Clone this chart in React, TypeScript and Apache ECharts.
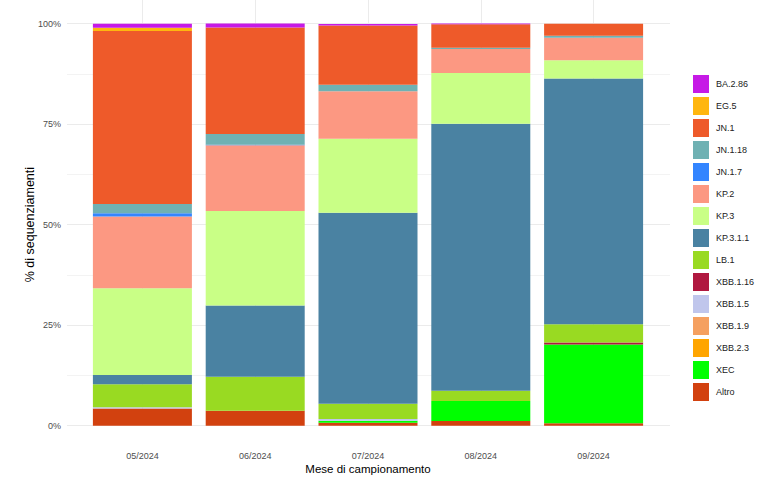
import React, { useEffect, useRef } from "react";
import * as echarts from "echarts";

// Mesi di campionamento
const months = ["05/2024", "06/2024", "07/2024", "08/2024", "09/2024"];

// Percentuale di sequenziamenti per lineage (una voce per mese)
const BA_2_86 = [1.0, 1.0, 0.4, 0.2, 0];
const EG_5 = [0.8, 0, 0, 0, 0];
const JN_1 = [43.0, 26.5, 14.7, 5.9, 3.0];
const JN_1_18 = [2.3, 2.65, 1.65, 0.25, 0.5];
const JN_1_7 = [0.85, 0.15, 0, 0, 0];
const KP_2 = [17.8, 16.3, 11.8, 6.0, 5.6];
const KP_3 = [21.6, 23.5, 18.4, 12.6, 4.5];
const KP_3_1_1 = [2.3, 17.75, 47.5, 66.4, 61.1];
const LB_1 = [5.7, 8.45, 3.8, 2.55, 4.55];
const XBB_1_16 = [0, 0, 0, 0, 0.5];
const XBB_1_5 = [0.3, 0, 0.4, 0, 0];
const XBB_1_9 = [0, 0, 0, 0, 0];
const XBB_2_3 = [0, 0, 0, 0, 0];
const XEC = [0, 0, 0.5, 4.97, 19.6];
const ALTRO = [4.3, 3.7, 0.75, 1.17, 0.6];

// Ordine della legenda (dall'alto) e relativi colori
const lineages = [
  "BA.2.86", "EG.5", "JN.1", "JN.1.18", "JN.1.7", "KP.2", "KP.3", "KP.3.1.1",
  "LB.1", "XBB.1.16", "XBB.1.5", "XBB.1.9", "XBB.2.3", "XEC", "Altro",
];
const lineageValues = [
  BA_2_86, EG_5, JN_1, JN_1_18, JN_1_7, KP_2, KP_3, KP_3_1_1,
  LB_1, XBB_1_16, XBB_1_5, XBB_1_9, XBB_2_3, XEC, ALTRO,
];
const lineageColors = [
  "#C61AE6", "#FFB60F", "#EE5A2A", "#6FB1B3", "#3385FF", "#FC9882", "#C9FF86", "#4A82A2",
  "#99DA22", "#B01840", "#C0C6EC", "#F5A060", "#FFA500", "#00FF00", "#D2410F",
];

const yTicks = [0, 25, 50, 75, 100];

const FONT = "'Liberation Sans', Arial, sans-serif";
const GRID_COLOR = "#EBEBEB";

export default function App() {
  const ref = useRef<HTMLDivElement>(null);

  useEffect(() => {
    if (!ref.current) return;
    const chart = echarts.init(ref.current, undefined, { renderer: "svg" });

    // Stack from the bottom: last legend entry first
    const order = lineages.map((_, i) => i).reverse();
    const series = order.map((i) => ({
      name: lineages[i],
      type: "bar" as const,
      stack: "tot",
      xAxisIndex: 0,
      yAxisIndex: 0,
      barWidth: 99,
      itemStyle: { color: lineageColors[i] },
      data: lineageValues[i],
    }));

    chart.setOption({
      animation: false,
      backgroundColor: "#ffffff",
      textStyle: { fontFamily: FONT },
      legend: {
        data: lineages.map((n, i) => ({ name: n, itemStyle: { color: lineageColors[i] } })),
        orient: "vertical",
        left: 688,
        top: 70,
        itemWidth: 16,
        itemHeight: 18,
        itemGap: 4,
        icon: "rect",
        selectedMode: false,
        textStyle: { fontSize: 9, color: "#222", fontFamily: FONT, padding: [0, 0, 0, 2] },
      },
      grid: [
        // bars
        { left: 86, right: 117, top: 23.5, bottom: 479 - 425.7, outerBoundsMode: "none", containLabel: false },
        // panel background with horizontal grid lines
        { left: 67, right: 97, top: 23.5, bottom: 479 - 425.7, outerBoundsMode: "none", containLabel: false },
      ],
      xAxis: [
        {
          type: "category",
          gridIndex: 0,
          data: months,
          offset: 20,
          axisLine: { show: false },
          axisTick: {
            show: true,
            inside: true,
            alignWithLabel: true,
            length: 443,
            lineStyle: { color: GRID_COLOR, width: 1 },
          },
          axisLabel: { fontSize: 9, color: "#4D4D4D", margin: 6, fontFamily: FONT },
          name: "Mese di campionamento",
          nameLocation: "middle",
          nameGap: 17,
          nameMoveOverlap: false,
          nameTextStyle: { fontSize: 11.5, color: "#000", fontFamily: FONT },
          z: 0,
        },
        {
          type: "value",
          gridIndex: 1,
          min: 0,
          max: 1,
          show: false,
        },
      ],
      yAxis: [
        {
          type: "value",
          gridIndex: 0,
          min: 0,
          max: 100,
          show: false,
        },
        {
          type: "value",
          gridIndex: 1,
          min: yTicks[0],
          max: yTicks[yTicks.length - 1],
          interval: yTicks[1] - yTicks[0],
          axisLine: { show: false },
          axisTick: { show: false },
          axisLabel: {
            fontSize: 9,
            color: "#4D4D4D",
            margin: 6,
            fontFamily: FONT,
            formatter: (v: number) => `${v}%`,
          },
          splitLine: { show: true, lineStyle: { color: GRID_COLOR, width: 1 } },
          minorTick: { show: false, splitNumber: 2 },
          minorSplitLine: { show: true, lineStyle: { color: "#F3F3F3", width: 1 } },
          name: "% di sequenziamenti",
          nameLocation: "middle",
          nameGap: 31,
          nameMoveOverlap: false,
          nameRotate: 90,
          nameTextStyle: { fontSize: 12.5, color: "#000", fontFamily: FONT },
          z: 0,
        },
      ],
      series,
    });

    return () => chart.dispose();
  }, []);

  return (
    <div
      ref={ref}
      style={{ position: "fixed", left: 0, top: 0, width: 767, height: 479, background: "#fff" }}
    />
  );
}
